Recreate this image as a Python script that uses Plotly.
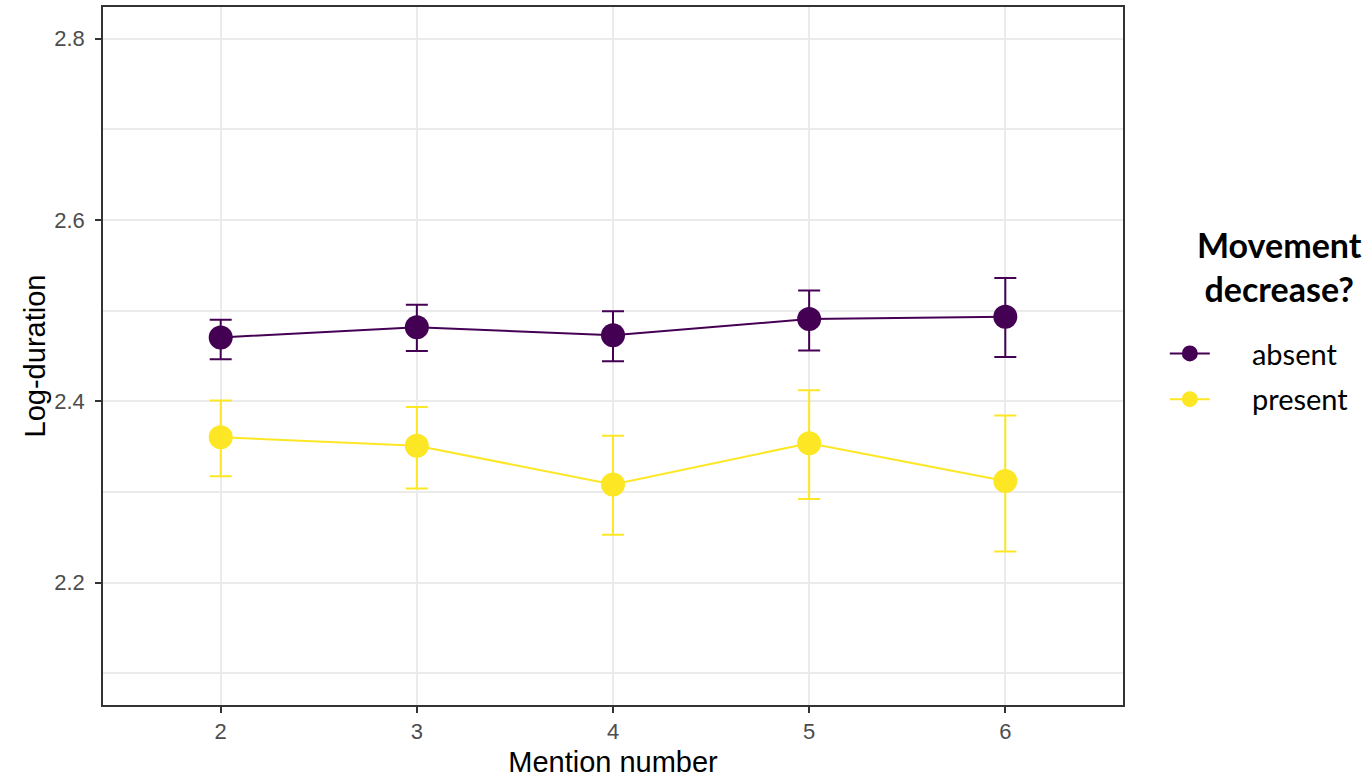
import plotly.graph_objects as go

mention = [2, 3, 4, 5, 6]

absent_mean = [2.4705, 2.4816, 2.4730, 2.4908, 2.4934]
absent_upper = [2.4900, 2.5064, 2.4994, 2.5223, 2.5361]
absent_lower = [2.4464, 2.4556, 2.4441, 2.4560, 2.4489]

present_mean = [2.3604, 2.3511, 2.3082, 2.3538, 2.3122]
present_upper = [2.4008, 2.3938, 2.3619, 2.4122, 2.3844]
present_lower = [2.3174, 2.3037, 2.2529, 2.2922, 2.2344]

series = [
    ("absent", "#440154", absent_mean, absent_upper, absent_lower),
    ("present", "#FDE725", present_mean, present_upper, present_lower),
]

PAD = "\u00a0" * 5

fig = go.Figure()
for name, color, mean, up, lo in series:
    fig.add_trace(go.Scatter(
        x=mention, y=mean, name=PAD + name, mode="lines+markers",
        legendgroup=name,
        line=dict(color=color, width=2),
        marker=dict(color=color, size=24, line=dict(width=0)),
        error_y=dict(type="data", symmetric=False,
                     array=[u - m for u, m in zip(up, mean)],
                     arrayminus=[m - l for m, l in zip(mean, lo)],
                     color=color, thickness=2, width=11),
    ))

axis_common = dict(
    showline=True, linecolor="#333333", linewidth=1.5, mirror=True,
    ticks="outside", ticklen=6, tickcolor="#333333", tickwidth=1.5,
    gridcolor="#EBEBEB", gridwidth=1.5, zeroline=False,
    tickfont=dict(family="Liberation Sans, Arial", size=22, color="#4D4D4D"),
)

fig.update_xaxes(range=[1.4, 6.6], tickvals=mention, ticktext=[str(m) for m in mention],
                 title=dict(text="Mention number", standoff=9,
                            font=dict(family="Liberation Sans, Arial", size=29, color="#000000")),
                 **axis_common)
fig.update_yaxes(range=[2.065, 2.835], tickvals=[2.2, 2.4, 2.6, 2.8],
                 ticktext=["2.2", "2.4", "2.6", "2.8"],
                 ticklabelstandoff=6,
                 minor=dict(tickvals=[2.1, 2.3, 2.5, 2.7], showgrid=True,
                            gridcolor="#EBEBEB", gridwidth=1.5, ticks=""),
                 title=dict(text="Log-duration", standoff=0,
                            font=dict(family="Liberation Sans, Arial", size=29, color="#000000")),
                 **axis_common)

fig.add_annotation(
    xref="paper", yref="paper", x=1.153, y=0.628, xanchor="center", yanchor="middle",
    text="<b>Movement<br>decrease?</b>", showarrow=False, align="center",
    font=dict(family="Lato", size=34, color="#000000"),
)

fig.update_layout(
    width=1372, height=780,
    margin=dict(l=103, r=249, t=5, b=75),
    paper_bgcolor="white", plot_bgcolor="white",
    showlegend=True,
    legend=dict(
        x=1.041, xanchor="left", y=0.54, yanchor="top",
        font=dict(family="Lato", size=29, color="#000000"),
        itemwidth=40, tracegroupgap=5,
        bgcolor="rgba(0,0,0,0)",
    ),
)

fig.write_html("out.html", config={"displayModeBar": False},
               post_script="document.body.style.margin='0';")
